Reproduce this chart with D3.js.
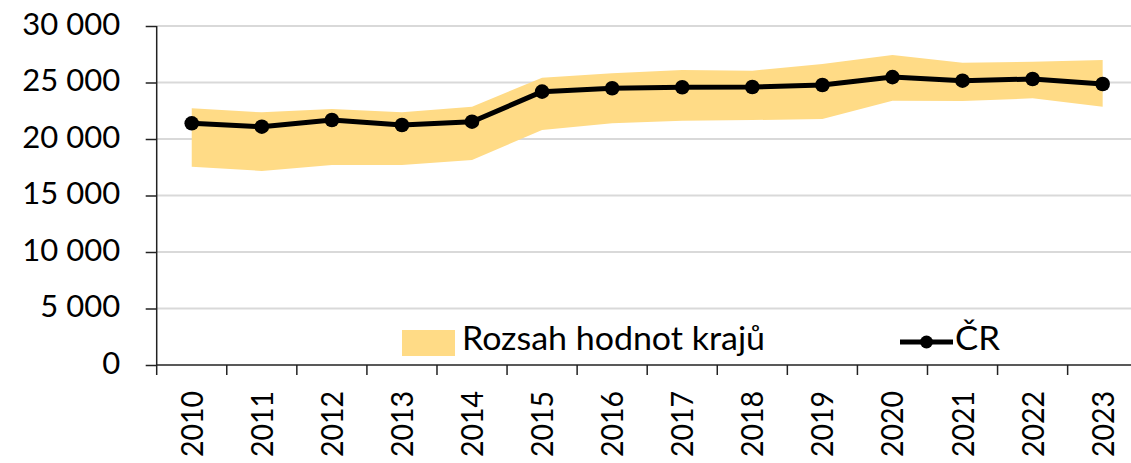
<!DOCTYPE html>
<html>
<head>
<meta charset="utf-8">
<script src="https://cdn.jsdelivr.net/npm/d3@7"></script>
<style>
  html, body { margin: 0; padding: 0; background: #fff; overflow: hidden; }
  text { font-family: Lato, "Noto Sans", sans-serif; fill: #000; }
</style>
</head>
<body>
<svg id="chart" width="1131" height="463"></svg>
<script>
const years = ["2010","2011","2012","2013","2014","2015","2016","2017","2018","2019","2020","2021","2022","2023"];
const crValues = [21390, 21090, 21680, 21240, 21530, 24190, 24490, 24580, 24600, 24780, 25480, 25160, 25310, 24870];
const rangeMin = [17550, 17170, 17700, 17700, 18140, 20800, 21390, 21620, 21680, 21770, 23390, 23360, 23600, 22860];
const rangeMax = [22720, 22360, 22660, 22360, 22860, 25430, 25810, 26110, 26050, 26640, 27440, 26750, 26840, 26990];
const yTicks = [0, 5000, 10000, 15000, 20000, 25000, 30000];
const legendLabels = ["Rozsah hodnot krajů", "ČR"];

(function () {
const svg = d3.select("#chart");
const pLeft = 156.7, pRight = 1137.7, pTop = 26, pBottom = 365;

const x = d3.scaleBand().domain(years).range([pLeft, pRight]).padding(0);
const y = d3.scaleLinear().domain([0, 30000]).range([pBottom, pTop]);
const cx = d => x(d) + x.bandwidth() / 2;
const fmt = v => d3.format(",")(v).replace(/,/g, " ");

// gridlines
svg.append("g").selectAll("line").data(yTicks.filter(t => t > 0)).join("line")
  .attr("x1", pLeft).attr("x2", 1131)
  .attr("y1", d => y(d)).attr("y2", d => y(d))
  .attr("stroke", "#d9d9d9").attr("stroke-width", 2);

// range band
const data = years.map((yr, i) => ({ yr, lo: rangeMin[i], hi: rangeMax[i], v: crValues[i] }));
svg.append("path").datum(data)
  .attr("fill", "#FFDB86")
  .attr("d", d3.area().x(d => cx(d.yr)).y0(d => y(d.lo)).y1(d => y(d.hi)));

// y axis
const yAxis = svg.append("g").attr("transform", `translate(${pLeft},0)`)
  .call(d3.axisLeft(y).tickValues(yTicks).tickSize(11).tickPadding(0).tickFormat(fmt));
yAxis.select(".domain").attr("stroke", "#222").attr("stroke-width", 1.5).attr("d", `M0,${pTop}V${pBottom}`);
yAxis.selectAll(".tick line").attr("stroke", "#222").attr("stroke-width", 1.5);
yAxis.selectAll(".tick text").attr("x", -36.5).attr("dy", "0.27em")
  .style("font-size", "31px").style("font-family", "Lato, sans-serif").attr("fill", "#000");

// x axis
const xAxis = svg.append("g").attr("transform", `translate(0,${pBottom})`)
  .call(d3.axisBottom(x).tickSize(0).tickFormat(""));
xAxis.select(".domain").attr("stroke", "#222").attr("stroke-width", 1.5).attr("d", `M${pLeft},0H1131`);
xAxis.selectAll(".tick line").remove();
svg.append("g").selectAll("line").data(years.concat(["end"])).join("line")
  .attr("x1", (d, i) => i < years.length ? x(d) : pRight)
  .attr("x2", (d, i) => i < years.length ? x(d) : pRight)
  .attr("y1", pBottom).attr("y2", pBottom + 10)
  .attr("stroke", "#222").attr("stroke-width", 1.5);
svg.append("g").selectAll("text").data(years).join("text")
  .attr("transform", d => `translate(${cx(d) + 11},${pBottom + 26}) rotate(-90) scale(0.95,1)`)
  .attr("text-anchor", "end")
  .style("font-size", "30px")
  .text(d => d);

// CR line
svg.append("path").datum(data)
  .attr("fill", "none").attr("stroke", "#000").attr("stroke-width", 5)
  .attr("stroke-linejoin", "round")
  .attr("d", d3.line().x(d => cx(d.yr)).y(d => y(d.v)));
svg.append("g").selectAll("circle").data(data).join("circle")
  .attr("cx", d => cx(d.yr)).attr("cy", d => y(d.v)).attr("r", 7.3).attr("fill", "#000");

// legend
const lg = svg.append("g");
lg.append("rect").attr("x", 402).attr("y", 330).attr("width", 53).attr("height", 26).attr("fill", "#FFDB86");
lg.append("text").attr("x", 462).attr("y", 350).style("font-size", "32px")
  .attr("textLength", 303).attr("lengthAdjust", "spacingAndGlyphs").text(legendLabels[0]);
lg.append("line").attr("x1", 900).attr("x2", 953).attr("y1", 342).attr("y2", 342)
  .attr("stroke", "#000").attr("stroke-width", 5);
lg.append("circle").attr("cx", 926.5).attr("cy", 342).attr("r", 6.5).attr("fill", "#000");
lg.append("text").attr("x", 955).attr("y", 350).style("font-size", "32px")
  .attr("textLength", 45).attr("lengthAdjust", "spacingAndGlyphs").text(legendLabels[1]);
})();
</script>
</body>
</html>
